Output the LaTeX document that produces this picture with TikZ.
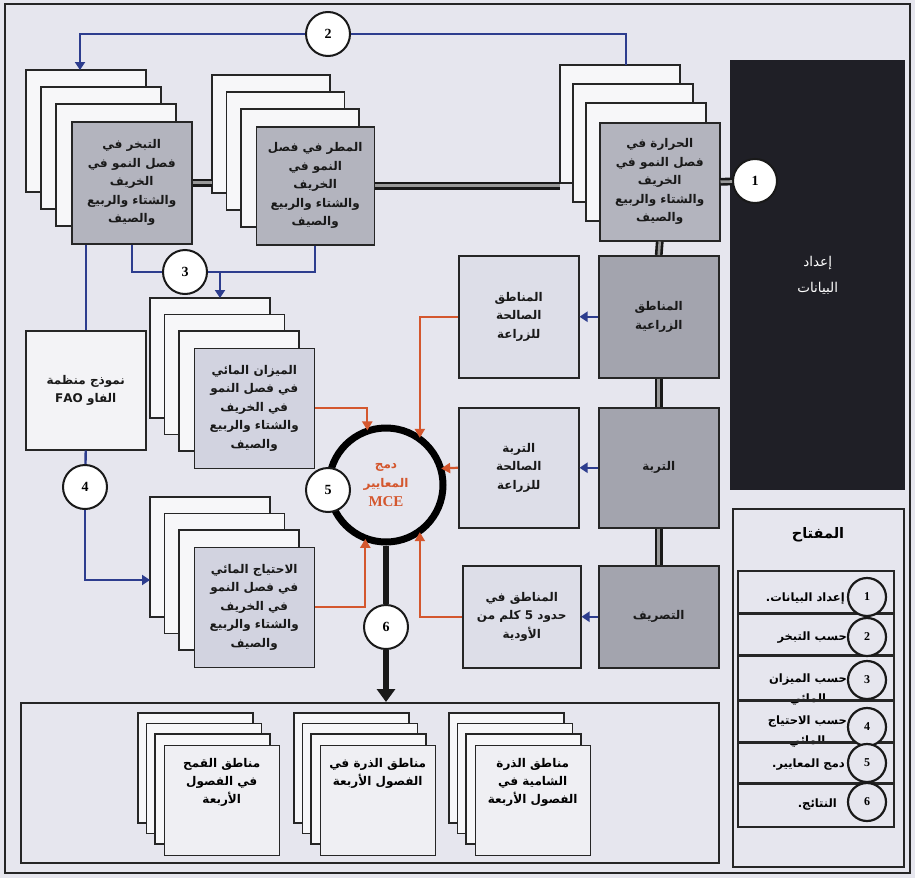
\documentclass[tikz,border=0pt]{standalone}
\usepackage{fontspec}
\setmainfont{Liberation Serif}
\newfontfamily\arabicfont[Script=Arabic]{DejaVu Sans}
\usetikzlibrary{arrows.meta,calc}
\TeXXeTstate=1
\newcommand\ar[1]{\beginR #1\endR}
\definecolor{bgc}{HTML}{E6E6EE}
\definecolor{cardc}{HTML}{F7F7F9}
\definecolor{topc}{HTML}{B3B4BE}
\definecolor{greyc}{HTML}{A3A4AE}
\definecolor{lightc}{HTML}{DDDEE8}
\definecolor{midc}{HTML}{D2D3E0}
\definecolor{botc}{HTML}{EFEFF3}
\definecolor{faoc}{HTML}{F3F3F6}
\definecolor{darkc}{HTML}{1F1F26}
\definecolor{bluec}{HTML}{2D3D8E}
\definecolor{orc}{HTML}{D4572E}
\newcommand\backcards[6]{%
  \foreach \i in {0,1,2}{\draw[card] ({#1+\i*#5},{#2+\i*#6}) rectangle ++(#3,#4);}}
\begin{document}
\begin{tikzpicture}[x=1pt,y=-1pt,
  card/.style={draw=black!85,line width=1.4pt,fill=cardc},
  boxbase/.style={draw=black!85,line width=1.5pt,inner sep=1pt,align=center,anchor=north west,
    font=\arabicfont\bfseries\fontsize{12}{18.5}\selectfont,text=black!90},
  topbox/.style={boxbase,fill=topc},
  greybox/.style={boxbase,fill=greyc},
  lightbox/.style={boxbase,fill=lightc},
  midbox/.style={boxbase,fill=midc},
  botbox/.style={boxbase,fill=botc},
  numc/.style={circle,draw=black!90,line width=2pt,fill=white,minimum size=44pt,inner sep=0pt,
    font=\bfseries\fontsize{14}{14}\selectfont},
  keynum/.style={circle,draw=black!90,line width=2.2pt,fill=bgc,minimum size=38pt,inner sep=0pt,
    font=\bfseries\fontsize{12}{12}\selectfont},
  keytext/.style={anchor=east,align=center,font=\arabicfont\bfseries\fontsize{11.5}{20}\selectfont,inner sep=1pt},
  bottext/.style={font=\arabicfont\bfseries\fontsize{12}{18}\selectfont,align=center,anchor=north},
  bl/.style={draw=bluec,line width=2.4pt},
  blarr/.style={bl,-{Triangle[width=10pt,length=8pt]}},
  orarr/.style={draw=orc,line width=2.2pt,-{Triangle[width=10pt,length=9pt]},shorten >=-3pt},
  dbl/.style={draw=black!90,double=black!40,double distance=2.6pt,line width=2.6pt},
]
\useasboundingbox (0,0) rectangle (915,878);
\fill[bgc] (0,0) rectangle (915,878);
\draw[line width=2pt,black!85] (5,4) rectangle (910,873);

% named free ends
\coordinate (evapT) at (80,70);
\coordinate (tempT) at (626,65);
\coordinate (rainL) at (212,180);
\coordinate (tempL) at (560,180);
\coordinate (wbT) at (220,298);
\coordinate (wnL) at (150,580);

% dark data box
\node[fill=darkc,minimum width=175,minimum height=430,anchor=north west,inner sep=0,align=center,
  text=white,font=\arabicfont\fontsize{13.5}{26}\selectfont] (dark) at (730,60) {\ar{إعداد}\\\ar{البيانات}};

% top stacks
\backcards{26}{70}{120}{122}{15}{17}
\node[topbox,minimum width=120,minimum height=122] (evap) at (71,121)
  {\ar{التبخر في}\\\ar{فصل النمو في}\\\ar{الخريف}\\\ar{والشتاء والربيع}\\\ar{والصيف}};
\backcards{212}{75}{118}{118}{14.5}{17}
\node[topbox,minimum width=118,minimum height=118] (rain) at (255.5,126)
  {\ar{المطر في فصل}\\\ar{النمو في}\\\ar{الخريف}\\\ar{والشتاء والربيع}\\\ar{والصيف}};
\backcards{560}{65}{120}{118}{13}{19}
\node[topbox,minimum width=120,minimum height=118] (temp) at (599,122)
  {\ar{الحرارة في}\\\ar{فصل النمو في}\\\ar{الخريف}\\\ar{والشتاء والربيع}\\\ar{والصيف}};

\node[numc] (c1) at (755,181) {1};
\node[numc] (c2) at (328,34) {2};
\node[numc] (c3) at (185,272) {3};
\node[numc] (c4) at (85,487) {4};

% double connectors
\draw[dbl] (evap.east) -- (evap.east -| rainL);
\draw[dbl] (rain.east) -- (rain.east -| tempL);
\draw[dbl] (temp.east) -- (c1);

% blue connector 2
\draw[bl] (tempT) |- (c2);
\draw[blarr] (c2) -| (evapT);

% grey and light boxes
\node[greybox,minimum width=120,minimum height=122] (agri) at (598,255) {\ar{المناطق}\\\ar{الزراعية}};
\node[greybox,minimum width=120,minimum height=120] (soil) at (598,407) {\ar{التربة}};
\node[greybox,minimum width=120,minimum height=102] (drain) at (598,565) {\ar{التصريف}};
\node[lightbox,minimum width=120,minimum height=122] (suit) at (458,255) {\ar{المناطق}\\\ar{الصالحة}\\\ar{للزراعة}};
\node[lightbox,minimum width=120,minimum height=120] (soilsuit) at (458,407) {\ar{التربة}\\\ar{الصالحة}\\\ar{للزراعة}};
\node[lightbox,minimum width=118,minimum height=102] (km) at (462,565) {\ar{المناطق في}\\\ar{حدود 5 كلم من}\\\ar{الأودية}};

\draw[dbl] (temp.south) -- (agri.north);
\draw[dbl] (agri.south) -- (soil.north);
\draw[dbl] (soil.south) -- (drain.north);

\draw[blarr] (agri.west) -- (suit.east);
\draw[blarr] (soil.west) -- (soilsuit.east);
\draw[blarr] (drain.west) -- (km.east);

% FAO box
\node[boxbase,fill=faoc,minimum width=120,minimum height=119] (fao) at (25,330)
  {\ar{نموذج منظمة}\\\ar{الفاو \beginL FAO\endL}};

% water balance / need stacks
\backcards{150}{298}{120}{120}{14.5}{16.5}
\node[midbox,minimum width=120,minimum height=120] (wbal) at (193.5,347.5)
  {\ar{الميزان المائي}\\\ar{في فصل النمو}\\\ar{في الخريف}\\\ar{والشتاء والربيع}\\\ar{والصيف}};
\backcards{150}{497}{120}{120}{14.5}{16.5}
\node[midbox,minimum width=120,minimum height=120] (wneed) at (193.5,546.5)
  {\ar{الاحتياج المائي}\\\ar{في فصل النمو}\\\ar{في الخريف}\\\ar{والشتاء والربيع}\\\ar{والصيف}};

% blue connectors 3 and 4
\draw[bl] (evap.south) |- (c3);
\draw[bl] (c3) -| (rain.south);
\draw[blarr] (wbT |- c3) -- (wbT);
\draw[bl] (evap.south -| fao.north) -- (fao.north);
\draw[bl] (fao.south) -- (c4);
\draw[blarr] (c4) |- (wnL);

% MCE ring
\node[circle,draw=black,line width=7pt,fill=bgc,minimum size=114pt,inner sep=0pt,align=center,
  text=orc,font=\arabicfont\bfseries\fontsize{12}{19}\selectfont] (mce) at (386,485)
  {\ar{دمج}\\\ar{المعايير}\\{\rmfamily\bfseries\fontsize{15}{15}\selectfont MCE}};
\node[numc] (c5) at (328,490) {5};

% orange arrows
\draw[orarr] (wbal.east) -| (mce.108);
\draw[orarr] (suit.west) -| (mce.56);
\draw[orarr] (soilsuit.west) -- (mce.16);
\draw[orarr] (km.west) -| (mce.-56);
\draw[orarr] (wneed.east) -| (mce.-110);

% results container
\node[draw=black!85,line width=1.5pt,minimum width=698,minimum height=160,anchor=north west,inner sep=0] (cont) at (20,702) {};
\node[numc] (c6) at (386,627) {6};
\draw[line width=6pt,black!90] (mce.south) -- (c6);
\draw[line width=6pt,black!90,-{Triangle[width=18pt,length=13pt]}] (c6) -- (c6 |- cont.north);

\backcards{138}{713}{115}{110}{8.5}{10.5}
\node[botbox,minimum width=115,minimum height=110] (wheat) at (163.5,744.5) {};
\node[bottext] (wheatt) at ([yshift=-10]wheat.north)
  {\ar{مناطق القمح}\\\ar{في الفصول}\\\ar{الأربعة}};
\backcards{294}{713}{115}{110}{8.5}{10.5}
\node[botbox,minimum width=115,minimum height=110] (corn) at (319.5,744.5) {};
\node[bottext] (cornt) at ([yshift=-10]corn.north)
  {\ar{مناطق الذرة في}\\\ar{الفصول الأربعة}};
\backcards{449}{713}{115}{110}{8.5}{10.5}
\node[botbox,minimum width=115,minimum height=110] (maize) at (474.5,744.5) {};
\node[bottext] (maizet) at ([yshift=-10]maize.north)
  {\ar{مناطق الذرة}\\\ar{الشامية في}\\\ar{الفصول الأربعة}};

% legend
\node[draw=black!85,line width=1.6pt,minimum width=171,minimum height=358,anchor=north west,inner sep=0] (key) at (732,508) {};
\node[font=\arabicfont\bfseries\fontsize{14.5}{14.5}\selectfont] (keyt) at (818,535) {\ar{المفتاح}};
\node[draw=black!85,line width=1.5pt,minimum width=156,minimum height=256,anchor=north west,inner sep=0] (rows) at (737,570) {};
\node[keytext] (t1) at (846,599) {\ar{إعداد البيانات.}};
\node[keytext] (t2) at (848,638) {\ar{حسب التبخر}};
\node[keytext] (t3) at (848,690) {\ar{حسب الميزان}\\\ar{المائي}};
\node[keytext] (t4) at (848,732) {\ar{حسب الاحتياج}\\\ar{المائي}};
\node[keytext] (t5) at (846,765) {\ar{دمج المعايير.}};
\node[keytext] (t6) at (838,805) {\ar{النتائج.}};
\foreach \yy in {613,655,700,742,783} \draw[line width=3pt,black!85] (737,\yy) -- (893,\yy);
\node[keynum] (k1) at (867,597) {1};
\node[keynum] (k2) at (867,637) {2};
\node[keynum] (k3) at (867,680) {3};
\node[keynum] (k4) at (867,727) {4};
\node[keynum] (k5) at (867,763) {5};
\node[keynum] (k6) at (867,802) {6};
\end{tikzpicture}
\end{document}
